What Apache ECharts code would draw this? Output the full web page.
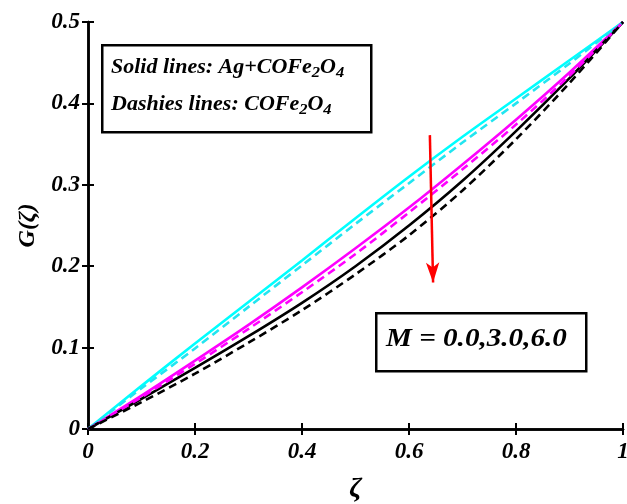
<!DOCTYPE html>
<html><head><meta charset="utf-8">
<script src="https://cdn.jsdelivr.net/npm/echarts@6/dist/echarts.min.js"></script>
<style>html,body{margin:0;padding:0;background:#fff}#c{width:627px;height:504px}</style>
</head><body><div id="c"></div>
<script>
var zeta = [0, 0.1, 0.2, 0.3, 0.4, 0.5, 0.6, 0.7, 0.8, 0.9, 1.0];
var cyanSolid = [0, 0.053, 0.105, 0.156, 0.207, 0.259, 0.310, 0.359, 0.406, 0.453, 0.5];
var cyanDashed = [0, 0.050, 0.099, 0.150, 0.201, 0.252, 0.302, 0.352, 0.400, 0.449, 0.5];
var magSolid = [0, 0.041, 0.084, 0.128, 0.174, 0.222, 0.272, 0.325, 0.380, 0.438, 0.5];
var magDashed = [0, 0.039, 0.080, 0.123, 0.168, 0.215, 0.266, 0.319, 0.374, 0.434, 0.5];
var blackSolid = [0, 0.037, 0.075, 0.114, 0.155, 0.200, 0.250, 0.305, 0.366, 0.431, 0.5];
var blackDashed = [0, 0.033, 0.068, 0.106, 0.146, 0.190, 0.238, 0.293, 0.356, 0.425, 0.5];
var xTicks = ['0', '0.2', '0.4', '0.6', '0.8', '1'];
var yTicks = ['0', '0.1', '0.2', '0.3', '0.4', '0.5'];
var arrowStart = [0.639, 0.361];
var arrowEnd = [0.645, 0.180];

function pairs(ys){ return zeta.map(function(x,i){ return [x, ys[i]]; }); }
var serif = '"Liberation Serif","DejaVu Serif",serif';
function mk(name, ys, color, dashed, extra){
  var s = {name:name, type:'line', data:pairs(ys), smooth:0.3, showSymbol:false, symbol:'none',
    lineStyle:{color:color, width:2.6, type: dashed ? [8,5] : 'solid'}, z: dashed?3:2, animation:false};
  if (extra) for (var k in extra) s[k]=extra[k];
  return s;
}
function fmtX(v){ var i = Math.round(v/0.2); return xTicks[i]; }
function fmtY(v){ var i = Math.round(v/0.1); return yTicks[i]; }
var labelStyle = {fontFamily:serif, fontWeight:'bold', fontStyle:'italic', fontSize:23, color:'#000'};
var subRich = {s:{fontFamily:serif, fontStyle:'italic', fontWeight:'bold', fontSize:15, padding:[12,0,0,0], verticalAlign:'bottom'}};
var chart = echarts.init(document.getElementById('c'), null, {renderer:'canvas'});
chart.setOption({
  animation:false,
  grid:{left:88, right:4, top:22, bottom:75, containLabel:false, outerBoundsMode:'none'},
  xAxis:[{type:'value', min:0, max:1, interval:0.2,
    axisLine:{lineStyle:{color:'#000', width:2.5}},
    axisTick:{inside:true, length:6, lineStyle:{color:'#000', width:2}},
    splitLine:{show:false},
    axisLabel:Object.assign({formatter:fmtX, margin:12}, labelStyle),
    name:'ζ', nameLocation:'middle', nameGap:46,
    nameTextStyle:{fontFamily:serif, fontStyle:'italic', fontWeight:'bold', fontSize:28, color:'#000'}},
   {type:'value', position:'top', min:0, max:1, interval:0.2,
    axisLine:{lineStyle:{color:'#000', width:2.5}},
    axisTick:{inside:true, length:6, lineStyle:{color:'#000', width:2}},
    axisLabel:{show:false}, splitLine:{show:false}}],
  yAxis:[{type:'value', min:0, max:0.5, interval:0.1,
    axisLine:{lineStyle:{color:'#000', width:2.5}},
    axisTick:{inside:true, length:6, lineStyle:{color:'#000', width:2}},
    splitLine:{show:false},
    axisLabel:Object.assign({formatter:fmtY, margin:8}, labelStyle),
    name:'G(ζ)', nameLocation:'middle', nameGap:48, nameRotate:90,
    nameTextStyle:{fontFamily:serif, fontStyle:'italic', fontWeight:'bold', fontSize:24, color:'#000'}},
   {type:'value', position:'right', min:0, max:0.5, interval:0.1,
    axisLine:{lineStyle:{color:'#000', width:2.5}},
    axisTick:{inside:true, length:6, lineStyle:{color:'#000', width:2}},
    axisLabel:{show:false}, splitLine:{show:false}}],
  series:[
    mk('cs', cyanSolid, '#00FFFF', false),
    mk('cd', cyanDashed, '#22E5F0', true),
    mk('ms', magSolid, '#FF00FF', false),
    mk('md', magDashed, '#FF00FF', true),
    mk('bs', blackSolid, '#000000', false),
    mk('bd', blackDashed, '#000000', true, {
      markLine:{silent:true, symbol:['none','arrow'], symbolSize:[10,20],
        lineStyle:{color:'#FF0000', width:2.5, type:'solid'}, label:{show:false},
        data:[[{coord:arrowStart},{coord:arrowEnd}]]}
    })
  ],
  graphic:[
    {type:'rect', left:101, top:44, shape:{width:269, height:87}, style:{fill:'#fff', stroke:'#000', lineWidth:2.5}, z:10},
    {type:'text', x:111, y:54, scaleX:1.1, z:11, style:{
      text:'Solid lines: Ag+COFe{s|2}O{s|4}',
      font:'italic bold 20px ' + serif, fill:'#000', rich:subRich}},
    {type:'text', x:111, y:91, scaleX:1.1, z:11, style:{
      text:'Dashies lines: COFe{s|2}O{s|4}',
      font:'italic bold 20px ' + serif, fill:'#000', rich:subRich}},
    {type:'rect', left:375, top:312, shape:{width:210, height:58}, style:{fill:'#fff', stroke:'#000', lineWidth:2.5}, z:10},
    {type:'text', x:386, y:326, scaleX:1.12, z:11, style:{text:'M = 0.0,3.0,6.0', font:'italic bold 26px ' + serif, fill:'#000'}}
  ]
});
</script></body></html>
